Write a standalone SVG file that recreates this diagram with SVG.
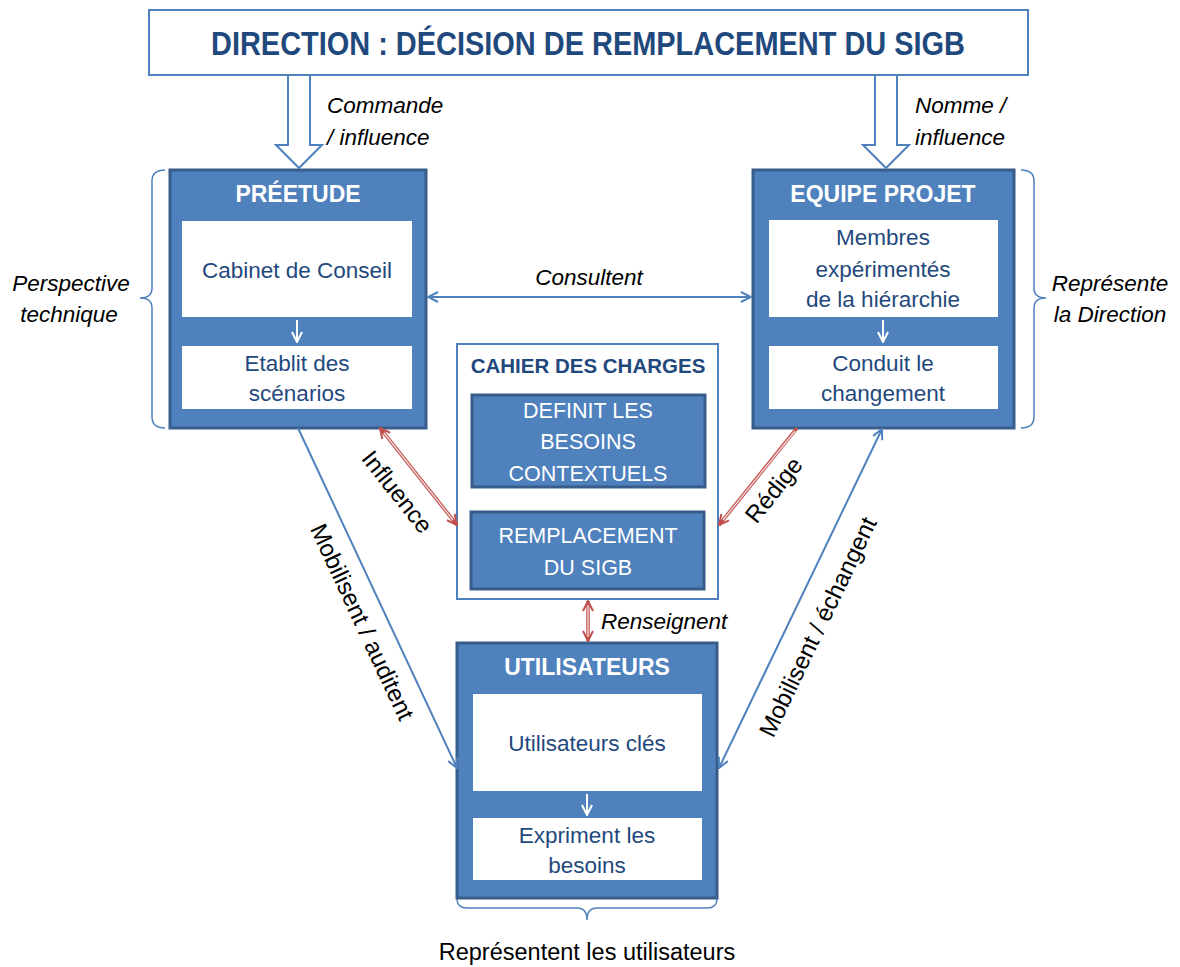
<svg xmlns="http://www.w3.org/2000/svg" width="1180" height="967" viewBox="0 0 1180 967">
<defs>
<style>
.box{fill:#4f81bd;stroke:#385d8a;stroke-width:3}
.wbox{fill:#ffffff;stroke:none}
.hdr{font-family:"Liberation Sans",Arial,sans-serif;font-weight:bold;font-size:23px;fill:#ffffff;text-anchor:middle}
.in{font-family:"Liberation Sans",Arial,sans-serif;font-size:22.5px;fill:#1f497d;text-anchor:middle}
.cin{font-family:"Liberation Sans",Arial,sans-serif;font-size:21.5px;fill:#ffffff;text-anchor:middle}
.lbl{font-family:"Liberation Sans",Arial,sans-serif;font-style:italic;font-size:22.5px;fill:#000000}
.rot{font-family:"Liberation Sans",Arial,sans-serif;font-size:24px;fill:#000000;text-anchor:middle}
.blue{fill:none;stroke:#4f81bd;stroke-width:2}
.red{fill:none;stroke:#c0504d;stroke-width:3.5}
.redin{fill:none;stroke:#f2dcdb;stroke-width:1.3}
.brace{fill:none;stroke:#4f81bd;stroke-width:1.5}
.wl{fill:none;stroke:#ffffff;stroke-width:2}
</style>
<marker id="ab" viewBox="0 0 12 12" refX="11" refY="6" markerWidth="12" markerHeight="12" markerUnits="userSpaceOnUse" orient="auto-start-reverse"><path d="M1,1 L11,6 L1,11" fill="none" stroke="#4f81bd" stroke-width="2"/></marker>
<marker id="ar" viewBox="0 0 12 12" refX="11" refY="6" markerWidth="12" markerHeight="12" markerUnits="userSpaceOnUse" orient="auto-start-reverse"><path d="M1,1 L11,6 L1,11" fill="none" stroke="#c0504d" stroke-width="2"/></marker>
<marker id="aw" viewBox="0 0 12 12" refX="11" refY="6" markerWidth="12" markerHeight="12" markerUnits="userSpaceOnUse" orient="auto"><path d="M1,1 L11,6 L1,11" fill="none" stroke="#ffffff" stroke-width="2"/></marker>
</defs>
<rect width="1180" height="967" fill="#ffffff"/>

<g id="direction">
<rect x="149" y="10" width="879" height="65" fill="#ffffff" stroke="#4f81bd" stroke-width="2"/>
<text x="588" y="55" font-family="Liberation Sans,Arial,sans-serif" font-weight="bold" font-size="34" fill="#1f497d" text-anchor="middle" textLength="754" lengthAdjust="spacingAndGlyphs">DIRECTION : DÉCISION DE REMPLACEMENT DU SIGB</text>
</g>

<g id="preetude">
<rect class="box" x="170" y="170" width="256" height="258"/>
<text class="hdr" x="298" y="202">PRÉETUDE</text>
<rect class="wbox" x="182" y="221" width="230" height="96"/>
<text class="in" x="297" y="278">Cabinet de Conseil</text>
<line class="wl" x1="297" y1="320" x2="297" y2="342" marker-end="url(#aw)"/>
<rect class="wbox" x="182" y="346" width="230" height="63"/>
<text class="in" x="297" y="371">Etablit des</text>
<text class="in" x="297" y="401">scénarios</text>
</g>

<g id="equipe-projet">
<rect class="box" x="753" y="170" width="261" height="258"/>
<text class="hdr" x="883" y="202">EQUIPE PROJET</text>
<rect class="wbox" x="769" y="220" width="229" height="97"/>
<text class="in" x="883" y="245">Membres</text>
<text class="in" x="883" y="277">expérimentés</text>
<text class="in" x="883" y="307">de la hiérarchie</text>
<line class="wl" x1="883" y1="320" x2="883" y2="342" marker-end="url(#aw)"/>
<rect class="wbox" x="769" y="346" width="229" height="63"/>
<text class="in" x="883" y="371">Conduit le</text>
<text class="in" x="883" y="401">changement</text>
</g>

<g id="cahier-des-charges">
<rect x="457" y="344" width="261" height="255" fill="#ffffff" stroke="#4f81bd" stroke-width="2"/>
<text x="588" y="373" font-family="Liberation Sans,Arial,sans-serif" font-weight="bold" font-size="20.5" fill="#1f497d" text-anchor="middle">CAHIER DES CHARGES</text>
<rect class="box" x="472" y="395" width="233" height="92" stroke-width="2.5"/>
<text class="cin" x="588" y="418">DEFINIT LES</text>
<text class="cin" x="588" y="449">BESOINS</text>
<text class="cin" x="588" y="481">CONTEXTUELS</text>
<rect class="box" x="471" y="512" width="233" height="77" stroke-width="2.5"/>
<text class="cin" x="588" y="543">REMPLACEMENT</text>
<text class="cin" x="588" y="575">DU SIGB</text>
</g>

<g id="utilisateurs">
<rect class="box" x="457" y="643" width="260" height="255"/>
<text class="hdr" x="587" y="675">UTILISATEURS</text>
<rect class="wbox" x="473" y="694" width="229" height="97"/>
<text class="in" x="587" y="751">Utilisateurs clés</text>
<line class="wl" x1="587" y1="794" x2="587" y2="815" marker-end="url(#aw)"/>
<rect class="wbox" x="473" y="818" width="229" height="62"/>
<text class="in" x="587" y="843">Expriment les</text>
<text class="in" x="587" y="873">besoins</text>
</g>

<g id="annotations">
<path class="brace" d="M165,170 Q152,170 152,181 L152,288 Q152,298 140,298 Q152,298 152,308 L152,417 Q152,428 165,428"/>
<text class="lbl" x="71" y="291" text-anchor="middle">Perspective</text>
<text class="lbl" x="69" y="322" text-anchor="middle">technique</text>
<path class="brace" d="M1021,170 Q1034,170 1034,181 L1034,288 Q1034,298 1046,298 Q1034,298 1034,308 L1034,417 Q1034,428 1021,428"/>
<text class="lbl" x="1110" y="291" text-anchor="middle">Représente</text>
<text class="lbl" x="1110" y="322" text-anchor="middle">la Direction</text>
<path class="brace" d="M457,899 Q457,908 467,908 L577,908 Q587,908 587,920 Q587,908 597,908 L707,908 Q717,908 717,899"/>
<text x="587" y="960" font-family="Liberation Sans,Arial,sans-serif" font-size="23.5" fill="#000000" text-anchor="middle">Représentent les utilisateurs</text>
</g>

<g id="connectors">
<polygon points="288,75 310,75 310,145 322,145 299,168 276,145 288,145" fill="#ffffff" stroke="#4f81bd" stroke-width="2"/>
<text class="lbl" x="327" y="113">Commande</text>
<text class="lbl" x="327" y="145">/ influence</text>
<polygon points="875,75 897,75 897,145 909,145 886,168 863,145 875,145" fill="#ffffff" stroke="#4f81bd" stroke-width="2"/>
<text class="lbl" x="915" y="113">Nomme /</text>
<text class="lbl" x="915" y="145">influence</text>

<line class="blue" x1="428" y1="297" x2="751" y2="297" marker-start="url(#ab)" marker-end="url(#ab)"/>
<text class="lbl" x="589" y="285" text-anchor="middle">Consultent</text>

<line class="red" x1="380" y1="428" x2="457" y2="525" marker-start="url(#ar)" marker-end="url(#ar)"/>
<line class="redin" x1="384" y1="433" x2="453" y2="520"/>
<text class="rot" transform="translate(397,492) rotate(51.5)" y="8">Influence</text>

<line class="red" x1="797" y1="428" x2="719" y2="525" marker-end="url(#ar)"/>
<line class="redin" x1="795" y1="431" x2="723" y2="520"/>
<text class="rot" transform="translate(774,490) rotate(-51.5)" y="8">Rédige</text>

<line class="red" x1="588" y1="601" x2="588" y2="641" marker-start="url(#ar)" marker-end="url(#ar)"/>
<line class="redin" x1="588" y1="605" x2="588" y2="637"/>
<text class="lbl" x="601" y="629">Renseignent</text>

<line class="blue" x1="298" y1="428" x2="457" y2="768" marker-end="url(#ab)"/>
<text class="rot" transform="translate(362,622) rotate(65)" y="8">Mobilisent / auditent</text>

<line class="blue" x1="882" y1="429" x2="719" y2="768" marker-start="url(#ab)" marker-end="url(#ab)"/>
<text class="rot" transform="translate(818,627) rotate(-64.3)" y="8">Mobilisent / échangent</text>
</g>
</svg>
